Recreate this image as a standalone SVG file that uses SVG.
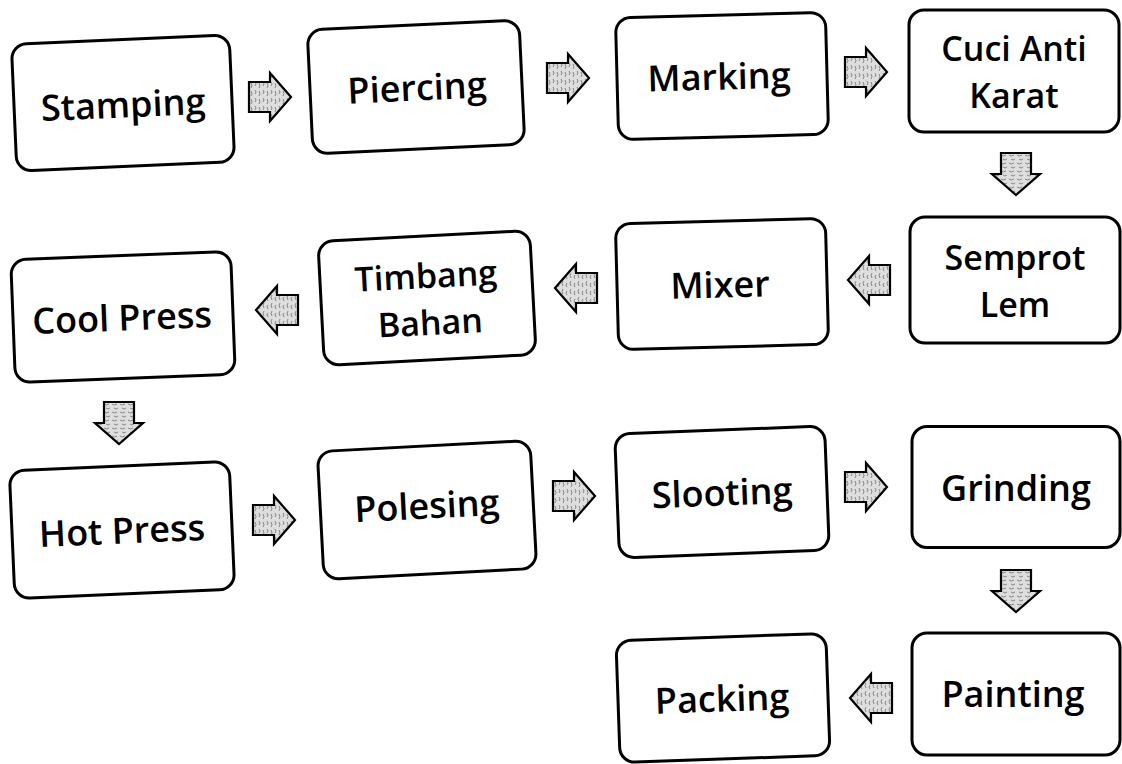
<svg xmlns="http://www.w3.org/2000/svg" width="1122" height="764" viewBox="0 0 1122 764">
<style>
.box{fill:#fff;stroke:#000;stroke-width:3}
.lbl{font-family:"Open Sans","Liberation Sans",sans-serif;font-weight:600;font-size:36px;fill:#000;text-anchor:middle;dominant-baseline:central}
.two{font-size:34px}
.arr{fill:url(#tex);stroke:#000;stroke-width:2.2;stroke-linejoin:miter}
</style>
<defs>
<pattern id="tex" width="8" height="8" patternUnits="userSpaceOnUse">
<rect width="8" height="8" fill="#dedede"/>
<path d="M1,1 q2,2 0,4 M5,2 q2,3 0,5" stroke="#7a7a7a" stroke-width="0.9" fill="none"/>
</pattern>
<path id="ar" d="M-21,-15 L0,-15 L0,-24 L21,0 L0,24 L0,15 L-21,15 Z"/>
</defs>
<g id="connectors">
<use href="#ar" class="arr" transform="translate(270,97)"/>
<use href="#ar" class="arr" transform="translate(568,78)"/>
<use href="#ar" class="arr" transform="translate(866,72)"/>
<use href="#ar" class="arr" transform="translate(1016,174) rotate(90)"/>
<use href="#ar" class="arr" transform="translate(869,280) rotate(180)"/>
<use href="#ar" class="arr" transform="translate(576,288) rotate(180)"/>
<use href="#ar" class="arr" transform="translate(277,310) rotate(180)"/>
<use href="#ar" class="arr" transform="translate(119,423) rotate(90)"/>
<use href="#ar" class="arr" transform="translate(274,520)"/>
<use href="#ar" class="arr" transform="translate(574,496)"/>
<use href="#ar" class="arr" transform="translate(866,487)"/>
<use href="#ar" class="arr" transform="translate(1016,591) rotate(90)"/>
<use href="#ar" class="arr" transform="translate(871,698) rotate(180)"/>
</g>
<g id="stamping" transform="rotate(-2.5 123 103)"><rect class="box" x="14" y="39.5" width="218" height="127" rx="15"/><text class="lbl" x="123" y="104">Stamping</text></g>
<g id="piercing" transform="rotate(-2.7 416 87)"><rect class="box" x="310" y="25" width="212" height="124" rx="15"/><text class="lbl" x="417" y="87">Piercing</text></g>
<g id="marking" transform="rotate(-1.5 722 76)"><rect class="box" x="617" y="15" width="210" height="122" rx="15"/><text class="lbl" x="719" y="76">Marking</text></g>
<g id="cuci"><rect class="box" x="909" y="10" width="210" height="122" rx="15"/><text class="lbl two" x="1014" y="47.5">Cuci Anti<tspan x="1014" dy="47">Karat</tspan></text></g>
<g id="semprot"><rect class="box" x="910" y="217" width="210" height="126" rx="15"/><text class="lbl two" x="1015" y="256.5">Semprot<tspan x="1015" dy="47">Lem</tspan></text></g>
<g id="mixer" transform="rotate(-1.5 722 284)"><rect class="box" x="617" y="221" width="210" height="126" rx="15"/><text class="lbl" x="720" y="284">Mixer</text></g>
<g id="timbang" transform="rotate(-3 427 298)"><rect class="box" x="321" y="236" width="212" height="124" rx="15"/><text class="lbl two" x="427" y="275">Timbang<tspan x="429" dy="47">Bahan</tspan></text></g>
<g id="coolpress" transform="rotate(-2.2 123 317)"><rect class="box" x="13" y="255.5" width="220" height="123" rx="15"/><text class="lbl" x="122" y="317">Cool Press</text></g>
<g id="hotpress" transform="rotate(-2.5 122 530)"><rect class="box" x="12" y="466" width="220" height="128" rx="15"/><text class="lbl" x="122" y="530">Hot Press</text></g>
<g id="polesing" transform="rotate(-3 427 510)"><rect class="box" x="320.5" y="446" width="213" height="128" rx="15"/><text class="lbl" x="427" y="505">Polesing</text></g>
<g id="slooting" transform="rotate(-2.2 722 492)"><rect class="box" x="617" y="430" width="210" height="124" rx="15"/><text class="lbl" x="722" y="492">Slooting</text></g>
<g id="grinding"><rect class="box" x="912" y="426.5" width="208" height="121" rx="15"/><text class="lbl" x="1016" y="487">Grinding</text></g>
<g id="painting"><rect class="box" x="912" y="633" width="208" height="122" rx="15"/><text class="lbl" x="1013" y="693">Painting</text></g>
<g id="packing" transform="rotate(-2 723 698)"><rect class="box" x="618" y="637" width="210" height="122" rx="15"/><text class="lbl" x="722" y="698">Packing</text></g>
</svg>
